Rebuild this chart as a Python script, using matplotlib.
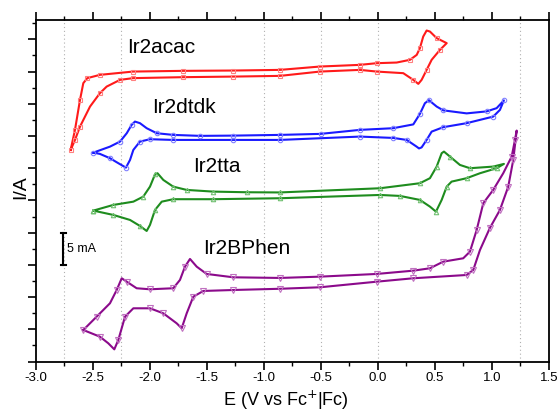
import matplotlib
matplotlib.use("Agg")
import matplotlib.pyplot as plt
from matplotlib.ticker import MultipleLocator, FixedLocator, NullFormatter

plt.rcParams['font.family'] = ['Liberation Sans', 'DejaVu Sans']
plt.rcParams['axes.unicode_minus'] = False

# ---------------- data (E in V vs Fc+/Fc, I in mA, offset stacked) ----------------
E_acac = [-2.696, -2.658, -2.614, -2.585, -2.55, -2.439, -2.149, -1.711, -1.272, -0.86,
          -0.509, -0.158, -0.011, 0.164, 0.281, 0.34, 0.368, 0.397, 0.427, 0.456, 0.515, 0.603,
          0.544, 0.471, 0.427, 0.383, 0.354, 0.31, 0.222, -0.011, -0.158, -0.509, -0.86,
          -1.272, -1.711, -2.149, -2.263, -2.38, -2.439, -2.526, -2.614, -2.658, -2.696]
I_acac = [32.84, 35.95, 40.6, 43.2, 43.98, 44.49, 45.0, 45.11, 45.16, 45.26,
          45.78, 46.04, 46.3, 46.4, 46.82, 47.59, 48.63, 50.43, 51.37, 51.21, 50.19, 49.41,
          48.37, 46.82, 45.26, 43.71, 43.09, 43.71, 44.75, 45.0, 45.26, 45.0, 44.33,
          44.22, 44.13, 43.98, 43.71, 42.67, 41.65, 39.57, 36.46, 34.39, 32.84]

E_dtdk = [-2.497, -2.351, -2.263, -2.204, -2.161, -2.132, -2.088, -2.029, -1.941, -1.796,
          -1.561, -1.269, -0.86, -0.503, -0.158, 0.134, 0.31, 0.368, 0.412, 0.447, 0.515,
          0.573, 0.778, 0.954, 1.041, 1.105,
          1.07, 1.011, 0.778, 0.573, 0.471, 0.427, 0.383, 0.36, 0.339, 0.252, 0.134,
          -0.158, -0.86, -1.269, -1.796, -2.0, -2.088, -2.146, -2.175, -2.211, -2.278,
          -2.351, -2.439, -2.497]
I_dtdk = [32.42, 33.35, 34.13, 35.43, 36.72, 37.24, 36.99, 36.21, 35.43, 35.17,
          35.02, 35.06, 35.17, 35.33, 35.95, 36.21, 36.80, 38.43, 40.09, 40.56, 39.57,
          38.98, 38.51, 38.82, 39.32, 40.53,
          39.05, 38.01, 36.99, 36.37, 35.68, 34.39, 33.23, 33.07, 33.35, 34.39, 34.70,
          34.91, 34.39, 34.39, 34.39, 34.50, 34.13, 32.84, 31.29, 30.09, 30.78,
          31.55, 32.22, 32.42]

E_tta = [-2.497, -2.322, -2.146, -2.059, -2.0, -1.956, -1.934, -1.883, -1.796, -1.678,
         -1.445, -1.152, -0.86, 0.018, 0.368, 0.456, 0.515, 0.559, 0.579, 0.632, 0.719,
         0.807, 1.011, 1.105,
         1.041, 0.895, 0.778, 0.646, 0.603, 0.559, 0.509, 0.456, 0.368, 0.193, 0.018,
         -0.86, -1.445, -1.796, -1.897, -1.956, -2.0, -2.029, -2.088, -2.175, -2.322, -2.497]
I_tta = [23.42, 24.30, 24.81, 25.59, 27.14, 29.04, 29.22, 28.18, 27.14, 26.63,
         26.37, 26.27, 26.24, 26.89, 27.67, 28.45, 30.25, 32.33, 32.58, 31.80, 30.51,
         30.0, 30.25, 30.67,
         30.0, 29.22, 28.45, 27.92, 27.14, 25.08, 23.26, 24.04, 25.08, 25.70, 25.85,
         25.34, 25.19, 25.19, 24.81, 23.52, 21.20, 20.26, 21.04, 21.97, 22.75, 23.42]

E_bphen = [-2.585, -2.468, -2.351, -2.292, -2.248, -2.204, -2.117, -2.0, -1.796, -1.737,
           -1.693, -1.649, -1.590, -1.503, -1.269, -0.86, -0.509, -0.011, 0.31, 0.456,
           0.573, 0.661, 0.748, 0.807, 0.866, 0.924, 1.011, 1.099, 1.173, 1.202, 1.217,
           1.187, 1.143, 1.07, 0.982, 0.895, 0.836, 0.778, 0.31, -0.011, -0.509, -0.86,
           -1.269, -1.532, -1.62, -1.678, -1.722, -1.766, -1.883, -2.0, -2.146, -2.219,
           -2.278, -2.313, -2.366, -2.439, -2.585]
I_bphen = [4.89, 6.96, 9.04, 11.10, 12.92, 12.39, 11.37, 11.21, 11.37, 12.66,
           14.72, 15.92, 14.72, 13.59, 13.07, 12.97, 13.17, 13.59, 14.10, 14.47,
           15.50, 15.76, 16.02, 17.05, 20.42, 24.57, 26.63, 29.22, 31.80, 34.39, 35.84,
           31.29, 27.14, 23.52, 20.73, 17.31, 14.21, 13.43, 12.92, 12.39, 11.52, 11.29,
           11.10, 10.95, 10.06, 7.48, 5.16, 5.93, 7.48, 8.26, 8.26, 6.96,
           3.34, 1.89, 2.83, 3.85, 4.89]

names = ["Ir2acac", "Ir2dtdk", "Ir2tta", "Ir2BPhen"]
label_pos = [(-2.20, 48.8), (-1.98, 39.4), (-1.62, 30.3), (-1.53, 17.6)]
x_ticks = [-3.0, -2.5, -2.0, -1.5, -1.0, -0.5, 0.0, 0.5, 1.0, 1.5]
grid_x = [-2.75, -2.25, -1.0, -0.5, 0.0, 1.25]
scale_bar = (-2.76, 15.0, 20.0)

# ---------------- figure ----------------
fig = plt.figure(figsize=(5.59, 4.11), dpi=100)
ax = fig.add_axes([0.0644, 0.1204, 0.9176, 0.8309])

series = [
    (E_acac, I_acac, '#ff1a1a', 's', '#ff8080', 3.0),
    (E_dtdk, I_dtdk, '#1a1aff', 'o', '#8080ff', 3.2),
    (E_tta, I_tta, '#1e8c1e', '^', '#70c070', 3.2),
    (E_bphen, I_bphen, '#8b0a8b', 'v', '#c070c0', 5.0),
]
for E, I, col, mk, mcol, ms in series:
    ax.plot(E, I, color=col, lw=1.5, zorder=3, solid_joinstyle='round')
    ax.plot(E, I, linestyle='none', marker=mk, markersize=ms, markerfacecolor='none',
            markeredgecolor=mcol, markeredgewidth=0.8, markevery=0.04, zorder=4)

for name, (x, y) in zip(names, label_pos):
    ax.text(x, y, name, fontsize=15, va='center', ha='left', color='black')

for gx in grid_x:
    ax.axvline(gx, color='#b0b0b0', lw=0.8, linestyle=(0, (1, 2.5)), zorder=1)

# scale bar
sx, sy0, sy1 = scale_bar
ax.plot([sx, sx], [sy0, sy1], color='black', lw=1.5, zorder=5)
ax.plot([sx - 0.02, sx + 0.02], [sy0, sy0], color='black', lw=1.5, zorder=5)
ax.plot([sx - 0.02, sx + 0.02], [sy1, sy1], color='black', lw=1.5, zorder=5)
ax.text(sx + 0.03, (sy0 + sy1) / 2, "5 mA", fontsize=9, va='center', ha='left')

ax.set_xlim(-3.0, 1.5)
ax.set_ylim(0, 53)
ax.xaxis.set_major_locator(FixedLocator(x_ticks))
ax.xaxis.set_minor_locator(MultipleLocator(0.25))
ax.set_xticklabels([f"{t:.1f}" for t in x_ticks])
ax.yaxis.set_major_locator(MultipleLocator(5))
ax.yaxis.set_minor_locator(MultipleLocator(2.5))
ax.yaxis.set_major_formatter(NullFormatter())

ax.tick_params(axis='both', which='major', direction='out', length=5.5, width=1.2, labelsize=9.5)
ax.tick_params(axis='both', which='minor', direction='out', length=3, width=1.0)
ax.tick_params(axis='x', which='both', top=True, bottom=True)
ax.tick_params(axis='y', which='both', left=True, right=False)
ax.tick_params(axis='x', which='major', pad=2)

for sp in ax.spines.values():
    sp.set_linewidth(1.3)

ax.set_xlabel(r"E (V vs Fc$^{+}$|Fc)", fontsize=13)
ax.xaxis.set_label_coords(0.487, -0.08)
ax.set_ylabel("I/A", fontsize=14, va='center')
ax.yaxis.set_label_coords(-0.03, 0.51)

fig.savefig("out.png", dpi=100)
